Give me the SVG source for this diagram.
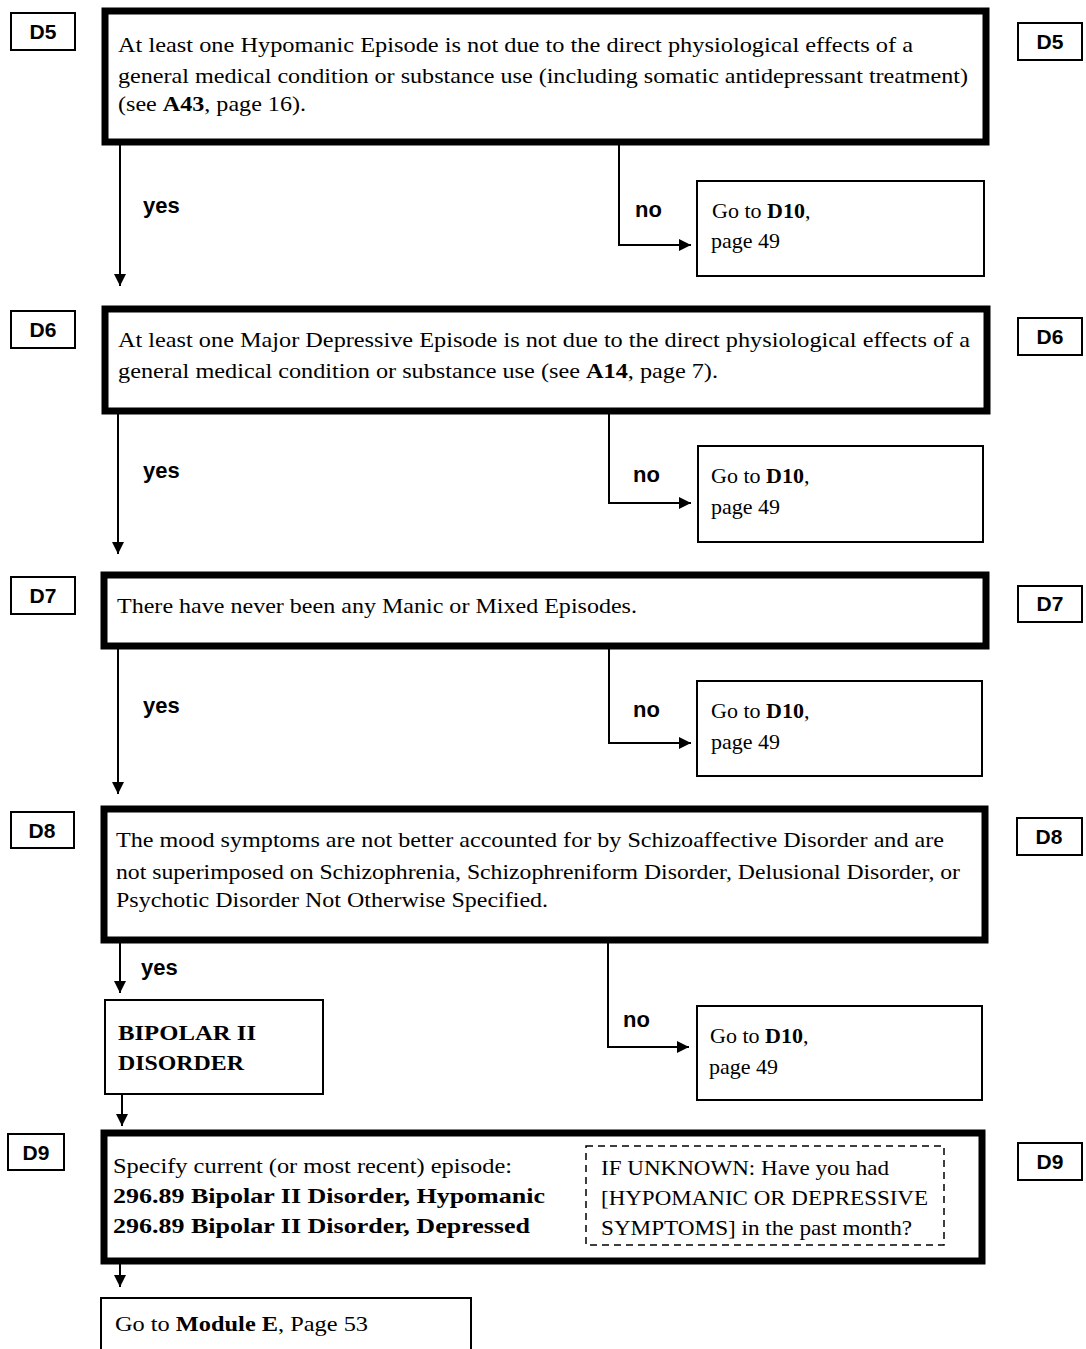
<svg xmlns="http://www.w3.org/2000/svg" width="1086" height="1349" viewBox="0 0 1086 1349">
<style>
.bg{fill:#fff}
.main{fill:#fff;stroke:#000;stroke-width:7}
.thin{fill:#fff;stroke:#000;stroke-width:2}
.lbl{fill:#fff;stroke:#000;stroke-width:2}
.dash{fill:none;stroke:#000;stroke-width:1.5;stroke-dasharray:7 5}
.ltxt{font-family:"Liberation Sans",Arial,sans-serif;font-weight:bold;font-size:21px;fill:#000}
.yn{font-family:"Liberation Sans",Arial,sans-serif;font-weight:bold;font-size:22px;fill:#000}
.t{font-family:"Liberation Serif","Times New Roman",serif;font-size:22px;fill:#000}
.b{font-weight:bold}
.con{fill:none;stroke:#000;stroke-width:2}
</style>
<defs>
<marker id="ah" viewBox="0 0 10 10" refX="10" refY="5" markerWidth="6" markerHeight="7" orient="auto" markerUnits="strokeWidth">
<path d="M0,0 L10,5 L0,10 z" fill="#000"/>
</marker>
</defs>
<rect class="bg" x="0" y="0" width="1086" height="1349"/>

<g id="labels">
<g id="lbl-d5l"><rect class="lbl" x="11" y="13" width="64" height="37"/><text class="ltxt" x="43" y="39" text-anchor="middle">D5</text></g>
<g id="lbl-d5r"><rect class="lbl" x="1018" y="23" width="64" height="37"/><text class="ltxt" x="1050" y="49" text-anchor="middle">D5</text></g>
<g id="lbl-d6l"><rect class="lbl" x="11" y="311" width="64" height="37"/><text class="ltxt" x="43" y="337" text-anchor="middle">D6</text></g>
<g id="lbl-d6r"><rect class="lbl" x="1018" y="318" width="64" height="37"/><text class="ltxt" x="1050" y="344" text-anchor="middle">D6</text></g>
<g id="lbl-d7l"><rect class="lbl" x="11" y="577" width="64" height="37"/><text class="ltxt" x="43" y="603" text-anchor="middle">D7</text></g>
<g id="lbl-d7r"><rect class="lbl" x="1018" y="586" width="64" height="36"/><text class="ltxt" x="1050" y="611" text-anchor="middle">D7</text></g>
<g id="lbl-d8l"><rect class="lbl" x="11" y="812" width="63" height="36"/><text class="ltxt" x="42" y="838" text-anchor="middle">D8</text></g>
<g id="lbl-d8r"><rect class="lbl" x="1017" y="818" width="65" height="37"/><text class="ltxt" x="1049" y="844" text-anchor="middle">D8</text></g>
<g id="lbl-d9l"><rect class="lbl" x="8" y="1134" width="56" height="36"/><text class="ltxt" x="36" y="1160" text-anchor="middle">D9</text></g>
<g id="lbl-d9r"><rect class="lbl" x="1018" y="1143" width="64" height="37"/><text class="ltxt" x="1050" y="1169" text-anchor="middle">D9</text></g>
</g>

<g id="connectors">
<line class="con" x1="120" y1="143" x2="120" y2="286" marker-end="url(#ah)"/>
<polyline class="con" points="619,143 619,245 691,245" marker-end="url(#ah)"/>
<line class="con" x1="118" y1="411" x2="118" y2="554" marker-end="url(#ah)"/>
<polyline class="con" points="609,411 609,503 691,503" marker-end="url(#ah)"/>
<line class="con" x1="118" y1="646" x2="118" y2="794" marker-end="url(#ah)"/>
<polyline class="con" points="609,646 609,743 691,743" marker-end="url(#ah)"/>
<line class="con" x1="120" y1="940" x2="120" y2="993" marker-end="url(#ah)"/>
<polyline class="con" points="608,940 608,1047 689,1047" marker-end="url(#ah)"/>
<line class="con" x1="122" y1="1094" x2="122" y2="1126" marker-end="url(#ah)"/>
<line class="con" x1="120" y1="1262" x2="120" y2="1287" marker-end="url(#ah)"/>
<text class="yn" x="143" y="213">yes</text>
<text class="yn" x="635" y="217">no</text>
<text class="yn" x="143" y="478">yes</text>
<text class="yn" x="633" y="482">no</text>
<text class="yn" x="143" y="713">yes</text>
<text class="yn" x="633" y="717">no</text>
<text class="yn" x="141" y="975">yes</text>
<text class="yn" x="623" y="1027">no</text>
</g>

<g id="d5">
<rect class="main" x="105" y="11" width="881" height="131"/>
<text class="t" x="118" y="52" textLength="795" lengthAdjust="spacingAndGlyphs">At least one Hypomanic Episode is not due to the direct physiological effects of a</text>
<text class="t" x="118" y="83" textLength="850" lengthAdjust="spacingAndGlyphs">general medical condition or substance use (including somatic antidepressant treatment)</text>
<text class="t" x="118" y="111" textLength="188" lengthAdjust="spacingAndGlyphs">(see <tspan class="b">A43</tspan>, page 16).</text>
</g>
<g id="d5-no">
<rect class="thin" x="697" y="181" width="287" height="95"/>
<text class="t" x="712" y="218">Go to <tspan class="b">D10</tspan>,</text>
<text class="t" x="711" y="248">page 49</text>
</g>

<g id="d6">
<rect class="main" x="105" y="309" width="882" height="102"/>
<text class="t" x="118" y="347" textLength="852" lengthAdjust="spacingAndGlyphs">At least one Major Depressive Episode is not due to the direct physiological effects of a</text>
<text class="t" x="118" y="378" textLength="600" lengthAdjust="spacingAndGlyphs">general medical condition or substance use (see <tspan class="b">A14</tspan>, page 7).</text>
</g>
<g id="d6-no">
<rect class="thin" x="698" y="446" width="285" height="96"/>
<text class="t" x="711" y="483">Go to <tspan class="b">D10</tspan>,</text>
<text class="t" x="711" y="514">page 49</text>
</g>

<g id="d7">
<rect class="main" x="104" y="575" width="882" height="71"/>
<text class="t" x="117" y="613" textLength="520" lengthAdjust="spacingAndGlyphs">There have never been any Manic or Mixed Episodes.</text>
</g>
<g id="d7-no">
<rect class="thin" x="697" y="681" width="285" height="95"/>
<text class="t" x="711" y="718">Go to <tspan class="b">D10</tspan>,</text>
<text class="t" x="711" y="749">page 49</text>
</g>

<g id="d8">
<rect class="main" x="104" y="809" width="881" height="131"/>
<text class="t" x="116" y="847" textLength="828" lengthAdjust="spacingAndGlyphs">The mood symptoms are not better accounted for by Schizoaffective Disorder and are</text>
<text class="t" x="116" y="879" textLength="844" lengthAdjust="spacingAndGlyphs">not superimposed on Schizophrenia, Schizophreniform Disorder, Delusional Disorder, or</text>
<text class="t" x="116" y="907" textLength="432" lengthAdjust="spacingAndGlyphs">Psychotic Disorder Not Otherwise Specified.</text>
</g>
<g id="d8-no">
<rect class="thin" x="697" y="1006" width="285" height="94"/>
<text class="t" x="710" y="1043">Go to <tspan class="b">D10</tspan>,</text>
<text class="t" x="709" y="1074">page 49</text>
</g>

<g id="bipolar">
<rect class="thin" x="105" y="1000" width="218" height="94"/>
<text class="t b" x="118" y="1040" textLength="138" lengthAdjust="spacingAndGlyphs">BIPOLAR II</text>
<text class="t b" x="118" y="1070" textLength="126" lengthAdjust="spacingAndGlyphs">DISORDER</text>
</g>

<g id="d9">
<rect class="main" x="104" y="1133" width="878" height="128"/>
<text class="t" x="113" y="1173" textLength="399" lengthAdjust="spacingAndGlyphs">Specify current (or most recent) episode:</text>
<text class="t b" x="113" y="1203" textLength="432" lengthAdjust="spacingAndGlyphs">296.89 Bipolar II Disorder, Hypomanic</text>
<text class="t b" x="113" y="1233" textLength="417" lengthAdjust="spacingAndGlyphs">296.89 Bipolar II Disorder, Depressed</text>
<rect class="dash" x="586" y="1146" width="358" height="99"/>
<text class="t" x="601" y="1175" textLength="288" lengthAdjust="spacingAndGlyphs">IF UNKNOWN: Have you had</text>
<text class="t" x="601" y="1205" textLength="327" lengthAdjust="spacingAndGlyphs">[HYPOMANIC OR DEPRESSIVE</text>
<text class="t" x="601" y="1235" textLength="311" lengthAdjust="spacingAndGlyphs">SYMPTOMS] in the past month?</text>
</g>

<g id="module-e">
<rect class="thin" x="101" y="1298" width="370" height="60"/>
<text class="t" x="115" y="1331" textLength="253" lengthAdjust="spacingAndGlyphs">Go to <tspan class="b">Module E</tspan>, Page 53</text>
</g>
</svg>
